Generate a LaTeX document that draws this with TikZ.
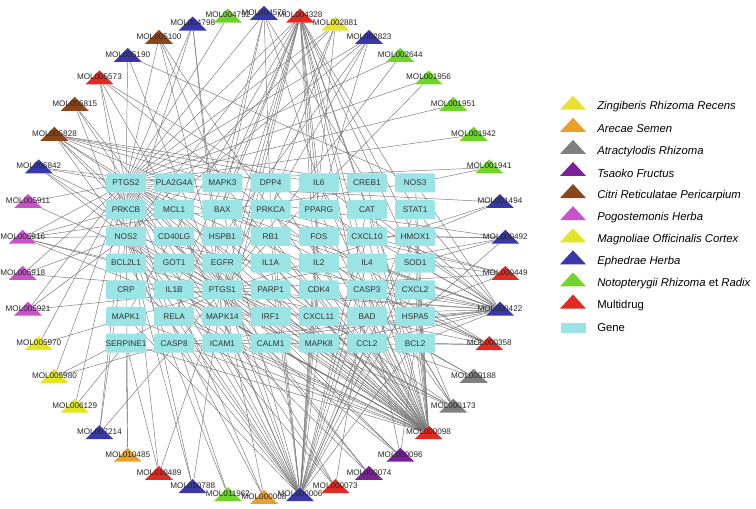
\documentclass[tikz,border=0pt]{standalone}
\usepackage{fontspec}
\setmainfont{Liberation Sans}
\usetikzlibrary{shapes.geometric,backgrounds}
\definecolor{zingiber}{RGB}{232,224,50}
\definecolor{arecae}{RGB}{232,160,40}
\definecolor{atract}{RGB}{128,128,128}
\definecolor{tsaoko}{RGB}{122,32,152}
\definecolor{citri}{RGB}{140,70,25}
\definecolor{pogost}{RGB}{200,82,200}
\definecolor{magnol}{RGB}{226,230,36}
\definecolor{ephedra}{RGB}{56,56,168}
\definecolor{notopt}{RGB}{112,212,42}
\definecolor{multi}{RGB}{226,42,32}
\definecolor{genefill}{RGB}{155,228,230}
\definecolor{edgegray}{RGB}{120,120,120}
\begin{document}
\begin{tikzpicture}[x=0.75pt,y=-0.75pt,
  mol/.style={isosceles triangle,shape border rotate=90,isosceles triangle stretches,
    minimum width=21pt,minimum height=10.5pt,inner sep=0pt,draw=none},
  mollab/.style={inner sep=0pt,font=\fontsize{6.1}{7}\selectfont,text=black!85},
  gene/.style={fill=genefill,rounded corners=1.5pt,minimum width=30pt,minimum height=14.25pt,
    inner sep=0pt,font=\fontsize{6.2}{7}\selectfont,text=black!80},
  edge/.style={draw=edgegray,line width=0.35pt},
  legtxt/.style={anchor=west,inner sep=0pt,font=\fontsize{8.5}{10}\selectfont}]
\useasboundingbox (0,0) rectangle (756,509);
% gene grid
\foreach \genes [count=\gi from 0] in {{PTGS2,PLA2G4A,MAPK3,DPP4,IL6,CREB1,NOS3},
  {PRKCB,MCL1,BAX,PRKCA,PPARG,CAT,STAT1},{NOS2,CD40LG,HSPB1,RB1,FOS,CXCL10,HMOX1},
  {BCL2L1,GOT1,EGFR,IL1A,IL2,IL4,SOD1},{CRP,IL1B,PTGS1,PARP1,CDK4,CASP3,CXCL2},
  {MAPK1,RELA,MAPK14,IRF1,CXCL11,BAD,HSPA5},{SERPINE1,CASP8,ICAM1,CALM1,MAPK8,CCL2,BCL2}}
  \foreach \g [count=\gj from 0] in \genes
    \node[gene] (\g) at ({126+48.2*\gj},{183+26.7*\gi}) {\g};
% compounds on the ring
\foreach \m/\col [count=\i from 0] in {MOL004576/ephedra,MOL004328/multi,MOL002881/zingiber,
  MOL002823/ephedra,MOL002644/notopt,MOL001956/notopt,MOL001951/notopt,MOL001942/notopt,
  MOL001941/notopt,MOL001494/ephedra,MOL000492/ephedra,MOL000449/multi,MOL000422/ephedra,
  MOL000358/multi,MOL000188/atract,MOL000173/atract,MOL000098/multi,MOL000096/tsaoko,
  MOL000074/tsaoko,MOL000073/multi,MOL000006/ephedra,MOL000008/arecae,MOL011962/notopt,
  MOL010788/ephedra,MOL010489/multi,MOL010485/arecae,MOL007214/ephedra,MOL006129/magnol,
  MOL005980/magnol,MOL005970/magnol,MOL005921/pogost,MOL005918/pogost,MOL005916/pogost,
  MOL005911/pogost,MOL005842/ephedra,MOL005828/citri,MOL005815/citri,MOL005573/multi,
  MOL005190/ephedra,MOL005100/citri,MOL004798/ephedra,MOL004792/notopt}{
  \node[mol,fill=\col] (\m) at ({264+242*cos(90-\i*360/42)},{256-242*sin(90-\i*360/42)}) {};
  \node[mollab] (lab\m) at ([yshift=1.2pt]\m.center) {\m};
}
% compound-target links
\begin{pgfonlayer}{background}
\foreach \m/\gl in {
  MOL004576/{PTGS2,MAPK3,IL6,PRKCA,CREB1,BAX},
  MOL004328/{PTGS2,PTGS1,NOS2,BAX,BCL2,CASP3,IL6,IL1B,MAPK1,MAPK8,MAPK14,EGFR,RELA,PPARG,HMOX1,CAT,SOD1,ICAM1,CCL2,STAT1,IL2,IL4},
  MOL002881/{PTGS2,PTGS1,NOS2,IL6,PRKCA},
  MOL002823/{PTGS2,PTGS1,NOS2,PPARG,HSPB1},
  MOL002644/{PTGS2,PTGS1},
  MOL001956/{PTGS2,PTGS1},
  MOL001951/{PTGS2},
  MOL001942/{PTGS2},
  MOL001941/{PTGS2,NOS3},
  MOL001494/{PTGS2,PTGS1,HMOX1},
  MOL000492/{PTGS2,PTGS1,HMOX1,CXCL10,SOD1,HSPA5},
  MOL000449/{PTGS2,PTGS1,PRKCA,MAPK8,SOD1},
  MOL000422/{PTGS2,PTGS1,NOS2,NOS3,BAX,BCL2,CASP3,CASP8,IL6,IL1B,IL4,HMOX1,STAT1,HSPA5,ICAM1,CCL2,MAPK8,RELA,PPARG,CXCL2,SOD1,CAT},
  MOL000358/{PTGS2,PTGS1,BAX,BCL2,CASP3,CASP8,PRKCA,HSPA5},
  MOL000188/{PTGS2,PTGS1,BCL2},
  MOL000173/{PTGS2,PTGS1,NOS2,IL1B,IL6,CASP3,BCL2,HSPA5},
  MOL000098/{PTGS2,PTGS1,NOS2,NOS3,BAX,BCL2,CASP3,CASP8,IL6,IL1B,IL2,IL4,IL1A,MAPK1,MAPK3,MAPK8,MAPK14,EGFR,RELA,HMOX1,SOD1,CAT,ICAM1,CCL2,STAT1,PPARG,CXCL2,CXCL10,CXCL11,CDK4,RB1,FOS,MCL1,BCL2L1,PRKCA,PRKCB,HSPA5,SERPINE1,CRP,IRF1,CD40LG,HSPB1,GOT1,PARP1,CALM1,BAD,CREB1,DPP4},
  MOL000096/{PTGS2,PTGS1,NOS2,BCL2,CASP3},
  MOL000074/{PTGS2,PTGS1,NOS2},
  MOL000073/{PTGS2,PTGS1,NOS2,CASP3},
  MOL000006/{PTGS2,PTGS1,NOS2,BAX,BCL2,CASP3,CASP8,IL6,IL1B,IL2,IL4,IL1A,MAPK1,MAPK8,MAPK14,EGFR,RELA,HMOX1,SOD1,CAT,ICAM1,CCL2,STAT1,PPARG,CXCL2,CXCL10,CDK4,RB1,FOS,MCL1,BCL2L1,PRKCA},
  MOL000008/{PTGS2,PTGS1,NOS2},
  MOL011962/{PTGS2,NOS2},
  MOL010788/{PTGS2,PTGS1,NOS2},
  MOL010489/{PTGS2,PTGS1,SERPINE1},
  MOL010485/{PTGS2,SERPINE1},
  MOL007214/{PTGS2,PTGS1,NOS2},
  MOL006129/{PTGS2,SERPINE1},
  MOL005980/{PTGS2,PTGS1,CASP8},
  MOL005970/{PTGS2,PTGS1},
  MOL005921/{PTGS2,PTGS1,NOS2},
  MOL005918/{PTGS2,PTGS1,NOS2},
  MOL005916/{PTGS2,PTGS1,NOS2,PRKCB,MAPK14,NOS3,BCL2L1},
  MOL005911/{PTGS2,PTGS1},
  MOL005842/{PTGS2,PTGS1,NOS2,PRKCB,PLA2G4A},
  MOL005828/{PTGS2,PTGS1,NOS2,PRKCB,PLA2G4A,MAPK3,DPP4,IL6,CREB1,MCL1},
  MOL005815/{PTGS2,PTGS1,NOS2},
  MOL005573/{PTGS2,PTGS1,NOS2,CASP3,PPARG},
  MOL005190/{PTGS2,PTGS1,NOS3},
  MOL005100/{PTGS2,PTGS1,MAPK3,PRKCA},
  MOL004798/{PTGS2,PTGS1,NOS2,MAPK14},
  MOL004792/{PTGS2}}
  \foreach \g in \gl
    \draw[edge] (\m) -- (\g);
\end{pgfonlayer}
% legend
\foreach \col/\txt [count=\k from 0] in {zingiber/\textit{Zingiberis Rhizoma Recens},
  arecae/\textit{Arecae Semen},atract/\textit{Atractylodis Rhizoma},tsaoko/\textit{Tsaoko Fructus},
  citri/\textit{Citri Reticulatae Pericarpium},pogost/\textit{Pogostemonis Herba},
  magnol/\textit{Magnoliae Officinalis Cortex},ephedra/\textit{Ephedrae Herba},
  notopt/\textit{Notopterygii Rhizoma} et \textit{Radix},multi/Multidrug}{
  \node[mol,fill=\col,minimum width=19.5pt] (key\k) at (573,{104+22.1*\k}) {};
  \node[legtxt] (txt\k) at (597,{107+22.1*\k}) {\txt};
}
\node[fill=genefill,minimum width=18.75pt,minimum height=7.5pt,inner sep=0pt] (keygene) at (573,328) {};
\node[legtxt] (txtgene) at (597,328) {Gene};
\end{tikzpicture}
\end{document}
